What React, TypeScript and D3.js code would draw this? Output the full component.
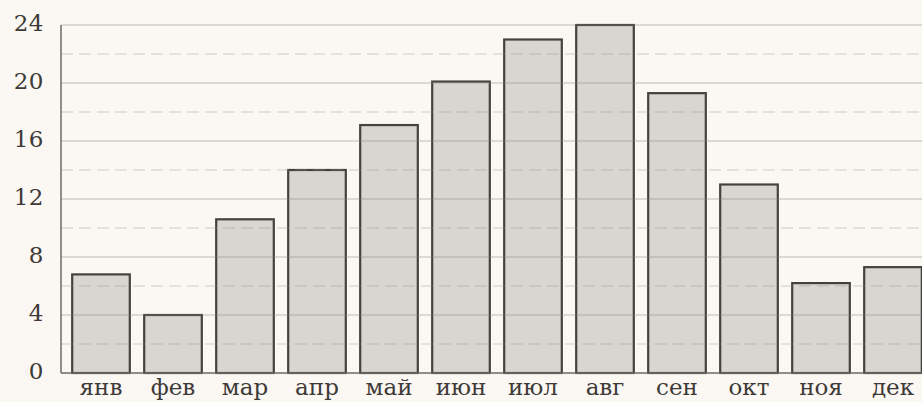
import { useEffect, useRef } from 'react';
import * as d3 from 'd3';

const months = ['янв', 'фев', 'мар', 'апр', 'май', 'июн', 'июл', 'авг', 'сен', 'окт', 'ноя', 'дек'];
const values = [6.8, 4.0, 10.6, 14.0, 17.1, 20.1, 23.0, 24.0, 19.3, 13.0, 6.2, 7.3];
const yTicks = [0, 4, 8, 12, 16, 20, 24];
const dashedTicks = [2, 6, 10, 14, 18, 22];

const W = 922;
const H = 402;

export default function App() {
  const svgRef = useRef<SVGSVGElement>(null);

  useEffect(() => {
    if (!svgRef.current) return;
    const svg = d3.select(svgRef.current);
    svg.selectAll('*').remove();

    const left = 61;
    const x = d3.scaleBand<string>()
      .domain(months)
      .range([65, 929])
      .paddingInner(0.2)
      .paddingOuter(0.1);
    const y = d3.scaleLinear().domain([0, 24]).range([373, 25]);

    svg.append('rect').attr('width', W).attr('height', H).attr('fill', '#fbf7f2');

    // bars
    svg.append('g')
      .selectAll('rect')
      .data(values)
      .join('rect')
      .attr('x', (_, i) => x(months[i])!)
      .attr('y', d => y(d))
      .attr('width', x.bandwidth())
      .attr('height', d => y(0) - y(d))
      .attr('fill', '#d9d5d0')
      .attr('stroke', '#45413f')
      .attr('stroke-width', 2.2);

    // grid over bars (shows through faintly)
    svg.append('g')
      .selectAll('line')
      .data(yTicks.filter(t => t > 0))
      .join('line')
      .attr('x1', left).attr('x2', W)
      .attr('y1', d => y(d)).attr('y2', d => y(d))
      .attr('stroke', '#858180')
      .attr('stroke-opacity', 0.5)
      .attr('stroke-width', 1.2);

    svg.append('g')
      .selectAll('line')
      .data(dashedTicks)
      .join('line')
      .attr('x1', left).attr('x2', W)
      .attr('y1', d => y(d)).attr('y2', d => y(d))
      .attr('stroke', '#95918d')
      .attr('stroke-opacity', 0.45)
      .attr('stroke-width', 1)
      .attr('stroke-dasharray', '12,6');

    // axes lines
    svg.append('line')
      .attr('x1', left).attr('x2', left)
      .attr('y1', y(24)).attr('y2', y(0))
      .attr('stroke', '#6e6a66').attr('stroke-width', 1.5);
    svg.append('line')
      .attr('x1', left).attr('x2', W)
      .attr('y1', y(0)).attr('y2', y(0))
      .attr('stroke', '#6e6a66').attr('stroke-width', 1.5);

    // y labels
    svg.append('g')
      .selectAll('text')
      .data(yTicks)
      .join('text')
      .attr('x', 44)
      .attr('y', d => y(d) - 2)
      .attr('dy', '0.36em')
      .attr('text-anchor', 'end')
      .attr('font-family', '"DejaVu Serif", serif')
      .attr('font-size', 23)
      .attr('letter-spacing', 0.5)
      .attr('fill', '#3e3a38')
      .text(d => d);

    // x labels
    svg.append('g')
      .selectAll('text')
      .data(months)
      .join('text')
      .attr('x', d => x(d)! + x.bandwidth() / 2)
      .attr('y', 395)
      .attr('text-anchor', 'middle')
      .attr('font-family', '"DejaVu Serif", serif')
      .attr('font-size', 23)
      .attr('fill', '#3e3a38')
      .text(d => d);
  }, []);

  return (
    <svg
      ref={svgRef}
      width={W}
      height={H}
      style={{ position: 'absolute', left: 0, top: 0, display: 'block' }}
    />
  );
}
